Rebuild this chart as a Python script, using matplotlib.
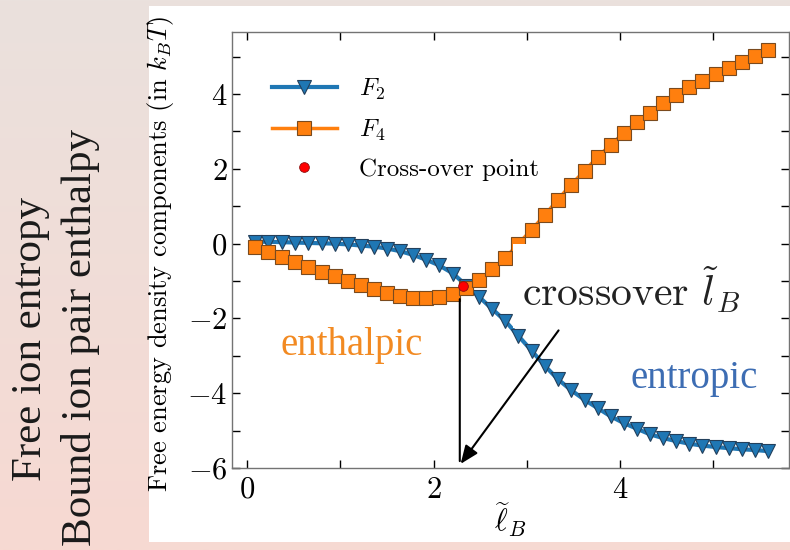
import numpy as np
import matplotlib
matplotlib.use('Agg')
import matplotlib.pyplot as plt
from matplotlib.colors import LinearSegmentedColormap
from matplotlib.patches import Rectangle
from matplotlib.ticker import MultipleLocator

# LaTeX-like look for the chart itself
plt.rcParams['font.family'] = 'serif'
plt.rcParams['font.serif'] = ['cmr10', 'DejaVu Serif']
plt.rcParams['mathtext.fontset'] = 'cm'
plt.rcParams['axes.formatter.use_mathtext'] = True

# Data
lB = [0.09, 0.23, 0.37, 0.51, 0.65, 0.80, 0.94, 1.08, 1.22, 1.36,
      1.50, 1.64, 1.78, 1.92, 2.06, 2.21, 2.35, 2.49, 2.63, 2.77,
      2.91, 3.05, 3.19, 3.33, 3.47, 3.62, 3.76, 3.90, 4.04, 4.18,
      4.32, 4.46, 4.60, 4.74, 4.88, 5.03, 5.17, 5.31, 5.45, 5.59]

F2 = [0.05, 0.05, 0.04, 0.03, 0.02, 0.01, 0.00, -0.02, -0.05, -0.08,
      -0.13, -0.20, -0.30, -0.43, -0.58, -0.80, -1.12, -1.43, -1.75, -2.07,
      -2.47, -2.86, -3.26, -3.62, -3.91, -4.18, -4.40, -4.62, -4.80, -4.95,
      -5.10, -5.20, -5.28, -5.35, -5.40, -5.44, -5.47, -5.50, -5.52, -5.55]

F4 = [-0.09, -0.23, -0.35, -0.49, -0.62, -0.76, -0.87, -1.00, -1.10, -1.21,
      -1.32, -1.39, -1.45, -1.46, -1.43, -1.34, -1.18, -0.96, -0.69, -0.38,
      0.00, 0.37, 0.76, 1.17, 1.57, 1.95, 2.32, 2.65, 2.96, 3.25,
      3.50, 3.75, 3.97, 4.18, 4.36, 4.54, 4.70, 4.85, 5.01, 5.18]

cross_x = [2.32]
cross_y = [-1.14]

xticks = [0, 2, 4]
yticks = [-6, -4, -2, 0, 2, 4]

# Slide overlay annotations (data coords)
arrow_vert = ((2.281, -1.41), (2.281, -5.89))
arrow_diag = ((3.34, -2.32), (2.29, -5.89))
box_x = (2.854, 5.40)
box_y = (-2.25, 0.0)

# Colours
c_blue = '#1f77b4'
c_orange = '#ff7f0e'
bg_top = '#eae1dd'
bg_bottom = '#f7d9d2'


fig = plt.figure(figsize=(7.9, 5.5), dpi=100)

# Slide background gradient
bg = fig.add_axes([0, 0, 1, 1])
grad = np.linspace(0, 1, 256).reshape(-1, 1)
cmap = LinearSegmentedColormap.from_list('slide', [bg_top, bg_bottom])
bg.imshow(grad, aspect='auto', extent=[0, 1, 0, 1], cmap=cmap)
bg.set_xlim(0, 1)
bg.set_ylim(0, 1)
bg.axis('off')

# White panel holding the figure
bg.add_patch(Rectangle((149/790, 1 - 542/550), (790 - 149)/790, (542 - 6)/550,
                       transform=fig.transFigure, facecolor='white',
                       edgecolor='none', zorder=2))

# Rotated slide text on the left
fig.text(41/790, 1 - 339/550, 'Free ion entropy', rotation=90,
         rotation_mode='anchor', ha='center', va='baseline',
         family='Liberation Serif', fontsize=31, color='#1a1a1a')
fig.text(91/790, 1 - 337/550, 'Bound ion pair enthalpy', rotation=90,
         rotation_mode='anchor', ha='center', va='baseline',
         family='Liberation Serif', fontsize=31, color='#1a1a1a')

# Main axes
ax = fig.add_axes([231.7/790, 1 - 468/550, (789 - 231.7)/790, (468 - 32)/550])
ax.set_facecolor('white')

ax.plot(lB, F2, '-v', color=c_blue, lw=3, ms=10.5, mec='#23405c', mew=0.8,
        label=r'$F_2$', zorder=3)
ax.plot(lB, F4, '-s', color=c_orange, lw=2.5, ms=9.5, mec='#7a4a1e', mew=0.8,
        label=r'$F_4$', zorder=4)
ax.plot(cross_x, cross_y, 'o', color='red', ms=7, mec='#8b1010', mew=0.6,
        ls='none', label='Cross-over point', zorder=6)

ax.set_xlim(-0.164, 5.81)
ax.set_ylim(-6.0, 5.66)
ax.set_xticks(xticks)
ax.set_yticks(yticks)
ax.xaxis.set_minor_locator(MultipleLocator(1))
ax.yaxis.set_minor_locator(MultipleLocator(1))
ax.tick_params(which='both', direction='in', top=True, right=True,
               length=6, width=1.0, color='black')
ax.tick_params(axis='x', labelsize=22, pad=6)
ax.tick_params(axis='y', labelsize=22, pad=3)
for s in ax.spines.values():
    s.set_color('0.45')
    s.set_linewidth(1.0)

ax.set_xlabel(r'$\widetilde{\ell}_B$', fontsize=22)
ax.xaxis.set_label_coords(0.5, -0.075)
ax.set_ylabel(r'Free energy density components (in $k_BT$)', fontsize=19)
ax.yaxis.set_label_coords(-0.1, 0.49)

leg = ax.legend(loc='upper left', bbox_to_anchor=(0.072, 0.897), frameon=False,
                fontsize=18, handlelength=2.6, handletextpad=0.9,
                labelspacing=0.62, borderpad=0, borderaxespad=0)

# Overlay: white box with "crossover" text
ax.add_patch(Rectangle((box_x[0], box_y[0]), box_x[1] - box_x[0], box_y[1] - box_y[0],
                       facecolor='white', edgecolor='none', zorder=7))
ax.text(2.95, -1.66, r'crossover $\tilde{l}_B$', fontsize=30, color='#222222',
        ha='left', va='baseline', zorder=8)

# Overlay arrows
ax.annotate('', xy=arrow_vert[1], xytext=arrow_vert[0],
            arrowprops=dict(arrowstyle='-', color='black', lw=1.5), zorder=9)
ax.annotate('', xy=arrow_diag[1], xytext=arrow_diag[0],
            arrowprops=dict(arrowstyle='-|>,head_length=1.1,head_width=0.45',
                            color='black', lw=1.5, shrinkA=0, shrinkB=0), zorder=9)

# Overlay region labels
ax.text(0.36, -2.98, 'enthalpic', family='Liberation Serif', fontsize=28,
        color='#f28a22', zorder=8)
ax.text(4.11, -3.85, 'entropic', family='Liberation Serif', fontsize=28,
        color='#3d6db3', zorder=8)

fig.savefig('out.png', dpi=100)
